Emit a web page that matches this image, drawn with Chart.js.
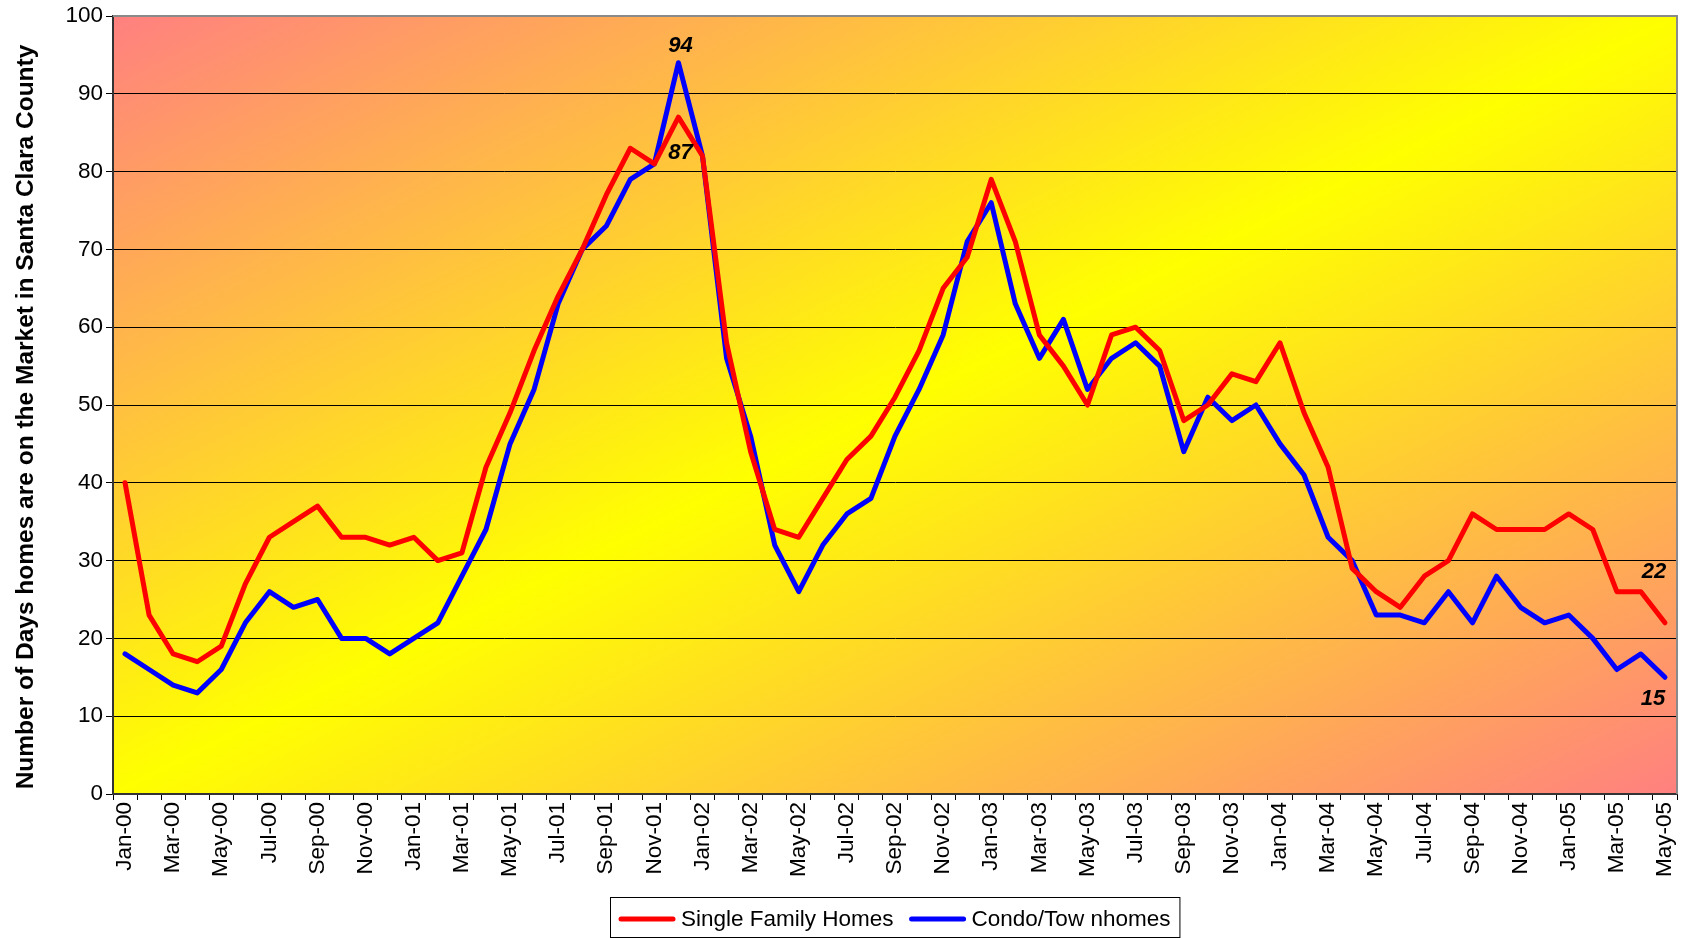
<!DOCTYPE html>
<html>
<head>
<meta charset="utf-8">
<script src="https://cdn.jsdelivr.net/npm/chart.js@4.4.0/dist/chart.umd.min.js"></script>
<style>
html,body{margin:0;padding:0;background:#ffffff;overflow:hidden}
canvas{display:block}
</style>
</head>
<body>
<canvas id="c" width="1686" height="938"></canvas>
<script>
// ---------- data ----------
const months = [
  'Jan-00','Feb-00','Mar-00','Apr-00','May-00','Jun-00','Jul-00','Aug-00','Sep-00','Oct-00','Nov-00','Dec-00',
  'Jan-01','Feb-01','Mar-01','Apr-01','May-01','Jun-01','Jul-01','Aug-01','Sep-01','Oct-01','Nov-01','Dec-01',
  'Jan-02','Feb-02','Mar-02','Apr-02','May-02','Jun-02','Jul-02','Aug-02','Sep-02','Oct-02','Nov-02','Dec-02',
  'Jan-03','Feb-03','Mar-03','Apr-03','May-03','Jun-03','Jul-03','Aug-03','Sep-03','Oct-03','Nov-03','Dec-03',
  'Jan-04','Feb-04','Mar-04','Apr-04','May-04','Jun-04','Jul-04','Aug-04','Sep-04','Oct-04','Nov-04','Dec-04',
  'Jan-05','Feb-05','Mar-05','Apr-05','May-05'
];
const singleFamilyHomes = [
  40,23,18,17,19,27,33,35,37,33,33,32,
  33,30,31,42,49,57,64,70,77,83,81,87,
  82,58,44,34,33,38,43,46,51,57,65,69,
  79,71,59,55,50,59,60,57,48,50,54,53,
  58,49,42,29,26,24,28,30,36,34,34,34,
  36,34,26,26,22
];
const condoTownhomes = [
  18,16,14,13,16,22,26,24,25,20,20,18,
  20,22,28,34,45,52,63,70,73,79,81,94,
  82,56,46,32,26,32,36,38,46,52,59,71,
  76,63,56,61,52,56,58,55,44,51,48,50,
  45,41,33,30,23,23,22,26,22,28,24,22,
  23,20,16,18,15
];
const seriesNames = ['Single Family Homes', 'Condo/Tow nhomes'];
const yAxisTitle = 'Number of Days homes are on the Market in Santa Clara County';
const yMin = 0, yMax = 100, yStep = 10;
// labelled points: [series index, point index]
const calloutPoints = [[1, 23], [0, 23], [0, 64], [1, 64]];

// ---------- styles ----------
const FONT = '"Liberation Sans", Arial, sans-serif';
const seriesColors = ['#FF0000', '#0000FF'];
const calloutOffsets = [[2, -17], [2, 36], [-11, -51], [-12, 22]]; // px, dx/dy from point

const bgPlugin = {
  id: 'bg',
  beforeDraw(chart) {
    const {ctx, chartArea: a} = chart;
    ctx.save();
    ctx.translate(a.left, a.top);
    ctx.scale(a.right - a.left, a.bottom - a.top);
    const g = ctx.createLinearGradient(0, 0, 1, 1);
    g.addColorStop(0, '#FF8080');
    g.addColorStop(0.5, '#FFFF00');
    g.addColorStop(1, '#FF8080');
    ctx.fillStyle = g;
    ctx.fillRect(0, 0, 1, 1);
    ctx.restore();
  }
};

const decoPlugin = {
  id: 'deco',
  afterDraw(chart) {
    const {ctx, chartArea: a} = chart;
    ctx.save();
    // top & right plot border
    ctx.strokeStyle = '#8a8a8a';
    ctx.lineWidth = 2;
    ctx.beginPath();
    ctx.moveTo(a.left, a.top);
    ctx.lineTo(a.right, a.top);
    ctx.lineTo(a.right, a.bottom);
    ctx.stroke();

    // y axis title
    ctx.save();
    ctx.translate(26, (a.top + a.bottom) / 2 + 12);
    ctx.rotate(-Math.PI / 2);
    ctx.font = 'bold 24.5px ' + FONT;
    ctx.fillStyle = '#000';
    ctx.textAlign = 'center';
    ctx.textBaseline = 'middle';
    ctx.fillText(yAxisTitle, 0, 0);
    ctx.restore();

    // callouts
    ctx.font = 'italic bold 22px ' + FONT;
    ctx.fillStyle = '#000';
    ctx.textAlign = 'center';
    ctx.textBaseline = 'middle';
    calloutPoints.forEach(([s, i], k) => {
      const meta = chart.getDatasetMeta(s);
      const pt = meta.data[i];
      const v = chart.data.datasets[s].data[i];
      ctx.fillText(String(v), pt.x + calloutOffsets[k][0], pt.y + calloutOffsets[k][1]);
    });

    // legend
    ctx.font = '22.5px ' + FONT;
    ctx.textAlign = 'left';
    const lineLen = 56, gapLT = 6, itemGap = 16, padX = 9;
    const items = chart.data.datasets.map(d => ({label: d.label, color: d.borderColor, w: ctx.measureText(d.label).width}));
    let total = padX * 2 + itemGap * (items.length - 1);
    items.forEach(it => total += lineLen + gapLT + it.w);
    const cx = (a.left + a.right) / 2;
    const boxL = Math.round(cx - total / 2), boxT = 897, boxH = 40;
    ctx.fillStyle = '#ffffff';
    ctx.fillRect(boxL, boxT, total, boxH);
    ctx.strokeStyle = '#000';
    ctx.lineWidth = 1;
    ctx.strokeRect(boxL + 0.5, boxT + 0.5, total, boxH);
    let x = boxL + padX;
    const yMid = boxT + 22;
    items.forEach(it => {
      ctx.strokeStyle = it.color;
      ctx.lineWidth = 5;
      ctx.lineCap = 'round';
      ctx.beginPath();
      ctx.moveTo(x + 2, yMid);
      ctx.lineTo(x + lineLen - 2, yMid);
      ctx.stroke();
      x += lineLen + gapLT;
      ctx.fillStyle = '#000';
      ctx.fillText(it.label, x, yMid + 1);
      x += it.w + itemGap;
    });
    ctx.restore();
  }
};

new Chart(document.getElementById('c'), {
  type: 'line',
  data: {
    labels: months,
    datasets: [
      {label: seriesNames[0], data: singleFamilyHomes, borderColor: seriesColors[0], backgroundColor: seriesColors[0],
       borderWidth: 5, pointRadius: 0, tension: 0, borderJoinStyle: 'round', borderCapStyle: 'round'},
      {label: seriesNames[1], data: condoTownhomes, borderColor: seriesColors[1], backgroundColor: seriesColors[1],
       borderWidth: 5, pointRadius: 0, tension: 0, borderJoinStyle: 'round', borderCapStyle: 'round'}
    ]
  },
  options: {
    responsive: false,
    animation: false,
    devicePixelRatio: 1,
    layout: {padding: {left: 0, right: 9, top: 16, bottom: 48}},
    plugins: {legend: {display: false}, tooltip: {enabled: false}},
    scales: {
      x: {
        offset: true,
        grid: {display: true, drawOnChartArea: false, drawTicks: true, tickLength: 6, color: '#000', offset: true},
        border: {display: true, color: '#333', width: 2},
        ticks: {
          autoSkip: false, maxRotation: 90, minRotation: 90, padding: 2,
          color: '#000', font: {family: FONT, size: 22.5},
          callback: function(v, i) { return i % 2 === 0 ? this.getLabelForValue(v) : ''; }
        },
        afterFit(s) { s.height = 96; s.paddingLeft = 0; s.paddingRight = 0; }
      },
      y: {
        min: yMin, max: yMax,
        grid: {color: '#000', lineWidth: 1, tickLength: 7},
        border: {display: true, color: '#333', width: 2},
        ticks: {stepSize: yStep, padding: 3, color: '#000', font: {family: FONT, size: 22.5}},
        title: {display: false, text: yAxisTitle},
        afterFit(s) { s.width = 113; s.paddingTop = 0; s.paddingBottom = 0; }
      }
    }
  },
  plugins: [bgPlugin, decoPlugin]
});
</script>
</body>
</html>
